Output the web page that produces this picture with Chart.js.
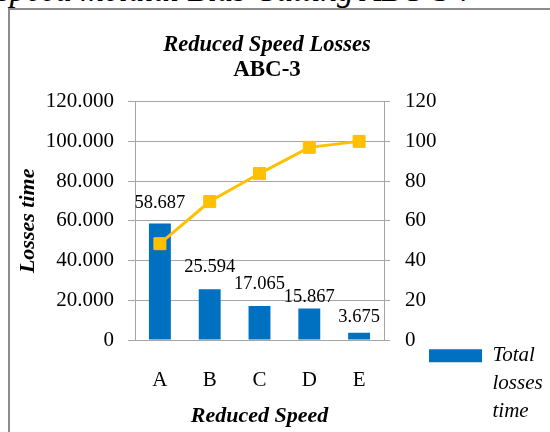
<!DOCTYPE html>
<html>
<head>
<meta charset="utf-8">
<script src="https://cdn.jsdelivr.net/npm/chart.js@4"></script>
<style>
  html, body { margin: 0; padding: 0; background: #fff; }
  body { width: 550px; height: 432px; position: relative; overflow: hidden; font-family: "Liberation Serif", serif; }
  #caption { position: absolute; left: -125px; top: -28px; font-style: italic; font-size: 33px; white-space: nowrap; color: #000; }
  #frame { position: absolute; left: 8px; top: 8px; width: 542px; height: 424px; border-left: 2px solid #8c8c8c; border-top: 2px solid #8c8c8c; background: #fff; }
  /* canvas starts 26px left of the frame so the centred title lands where Excel put it */
  #wrap { position: absolute; left: -26px; top: 0; width: 566px; height: 422px; }
</style>
</head>
<body>
<div id="caption">Reduced speed melalui Bias Cutting ABC-3 :</div>
<div id="frame"><div id="wrap"><canvas id="paretoChart"></canvas></div></div>
<script>
// chart values
var categories = ['A', 'B', 'C', 'D', 'E'];
var lossValues = [58.687, 25.594, 17.065, 15.867, 3.675];
var cumulativePct = [48.5, 69.7, 83.8, 97.0, 100];
var leftTicks = [0, 20, 40, 60, 80, 100, 120];
var rightTicks = [0, 20, 40, 60, 80, 100, 120];
var legendText = ['Total', 'losses', 'time'];

var serif = 'Liberation Serif';
var gridGrey = '#a6a6a6';
var labelGap = [20, 22, 22, 11, 16]; // Excel's data labels don't sit at one fixed gap

// draws the value above each bar
var barLabels = {
    id: 'barLabels',
    afterDatasetsDraw: function (chart) {
        var ctx = chart.ctx;
        var meta = chart.getDatasetMeta(1);
        ctx.save();
        ctx.font = '18.5px "' + serif + '"';
        ctx.fillStyle = '#000';
        ctx.textAlign = 'center';
        ctx.textBaseline = 'middle';
        meta.data.forEach(function (bar, i) {
            ctx.fillText(lossValues[i].toFixed(3), bar.x, bar.y - labelGap[i]);
        });
        ctx.restore();
    }
};

new Chart(document.getElementById('paretoChart'), {
    data: {
        labels: categories,
        datasets: [{
            type: 'line',
            label: 'Cumulative %',
            data: cumulativePct,
            yAxisID: 'y1',
            borderColor: '#FFC000',
            backgroundColor: '#FFC000',
            borderWidth: 3,
            pointStyle: 'rect',
            pointRadius: 8.5,
            pointBorderWidth: 1,
            order: 0
        }, {
            type: 'bar',
            label: 'Total losses time',
            data: lossValues,
            yAxisID: 'y',
            backgroundColor: '#0070C0',
            barPercentage: 0.44,
            categoryPercentage: 1,
            order: 1
        }]
    },
    options: {
        responsive: true,
        maintainAspectRatio: false,
        animation: false,
        layout: { padding: 0 },
        plugins: {
            title: {
                display: true,
                text: 'Reduced Speed Losses',
                color: '#000',
                font: { family: serif, size: 22.5, weight: 'bold', style: 'italic', lineHeight: 1.1 },
                padding: { top: 22.6, bottom: 0 }
            },
            subtitle: {
                display: true,
                text: 'ABC-3',
                color: '#000',
                font: { family: serif, size: 23, weight: 'bold', lineHeight: 1.1 },
                padding: { top: 0, bottom: 19 }
            },
            legend: {
                position: 'right',
                align: 'end',
                maxWidth: 124,
                labels: {
                    generateLabels: function (chart) {
                        return [{
                            text: legendText,
                            fillStyle: '#0070C0',
                            strokeStyle: '#0070C0',
                            lineWidth: 0,
                            datasetIndex: 1
                        }];
                    },
                    boxWidth: 53,
                    boxHeight: 13,
                    padding: 3,
                    color: '#000',
                    font: { family: serif, size: 21, style: 'italic', lineHeight: 1.33 }
                }
            },
            tooltip: { enabled: false }
        },
        scales: {
            x: {
                afterFit: function (axis) { axis.height = 92; },
                grid: { display: false, drawTicks: false },
                border: { display: true, color: gridGrey },
                ticks: { color: '#000', padding: 28, font: { family: serif, size: 21 } },
                title: {
                    display: true,
                    text: 'Reduced Speed',
                    color: '#000',
                    font: { family: serif, size: 22, weight: 'bold', style: 'italic' },
                    padding: { top: 10, bottom: 2 }
                }
            },
            y: {
                position: 'left',
                min: leftTicks[0],
                max: leftTicks[leftTicks.length - 1],
                afterBuildTicks: function (axis) {
                    axis.ticks = leftTicks.map(function (v) { return { value: v }; });
                },
                afterFit: function (axis) { axis.width = 151; },
                grid: { color: gridGrey, tickLength: 7 },
                border: { display: true, color: gridGrey },
                ticks: {
                    color: '#000',
                    padding: 14,
                    font: { family: serif, size: 21 },
                    callback: function (v) { return v === 0 ? '0' : v.toFixed(3); }
                },
                title: {
                    display: true,
                    text: 'Losses time',
                    color: '#000',
                    font: { family: serif, size: 22, weight: 'bold', style: 'italic' },
                    padding: { top: 31, bottom: 8 }
                }
            },
            y1: {
                position: 'right',
                min: rightTicks[0],
                max: rightTicks[rightTicks.length - 1],
                afterBuildTicks: function (axis) {
                    axis.ticks = rightTicks.map(function (v) { return { value: v }; });
                },
                afterFit: function (axis) {
                    // narrow box so the legend can sit close; let the labels spill over it
                    axis.width = 42;
                    axis._computeLabelArea = function () { return null; };
                },
                grid: { drawOnChartArea: false, color: gridGrey, tickLength: 6 },
                border: { display: true, color: gridGrey },
                ticks: { color: '#000', padding: 15, font: { family: serif, size: 21 } }
            }
        }
    },
    plugins: [barLabels]
});
</script>
</body>
</html>
